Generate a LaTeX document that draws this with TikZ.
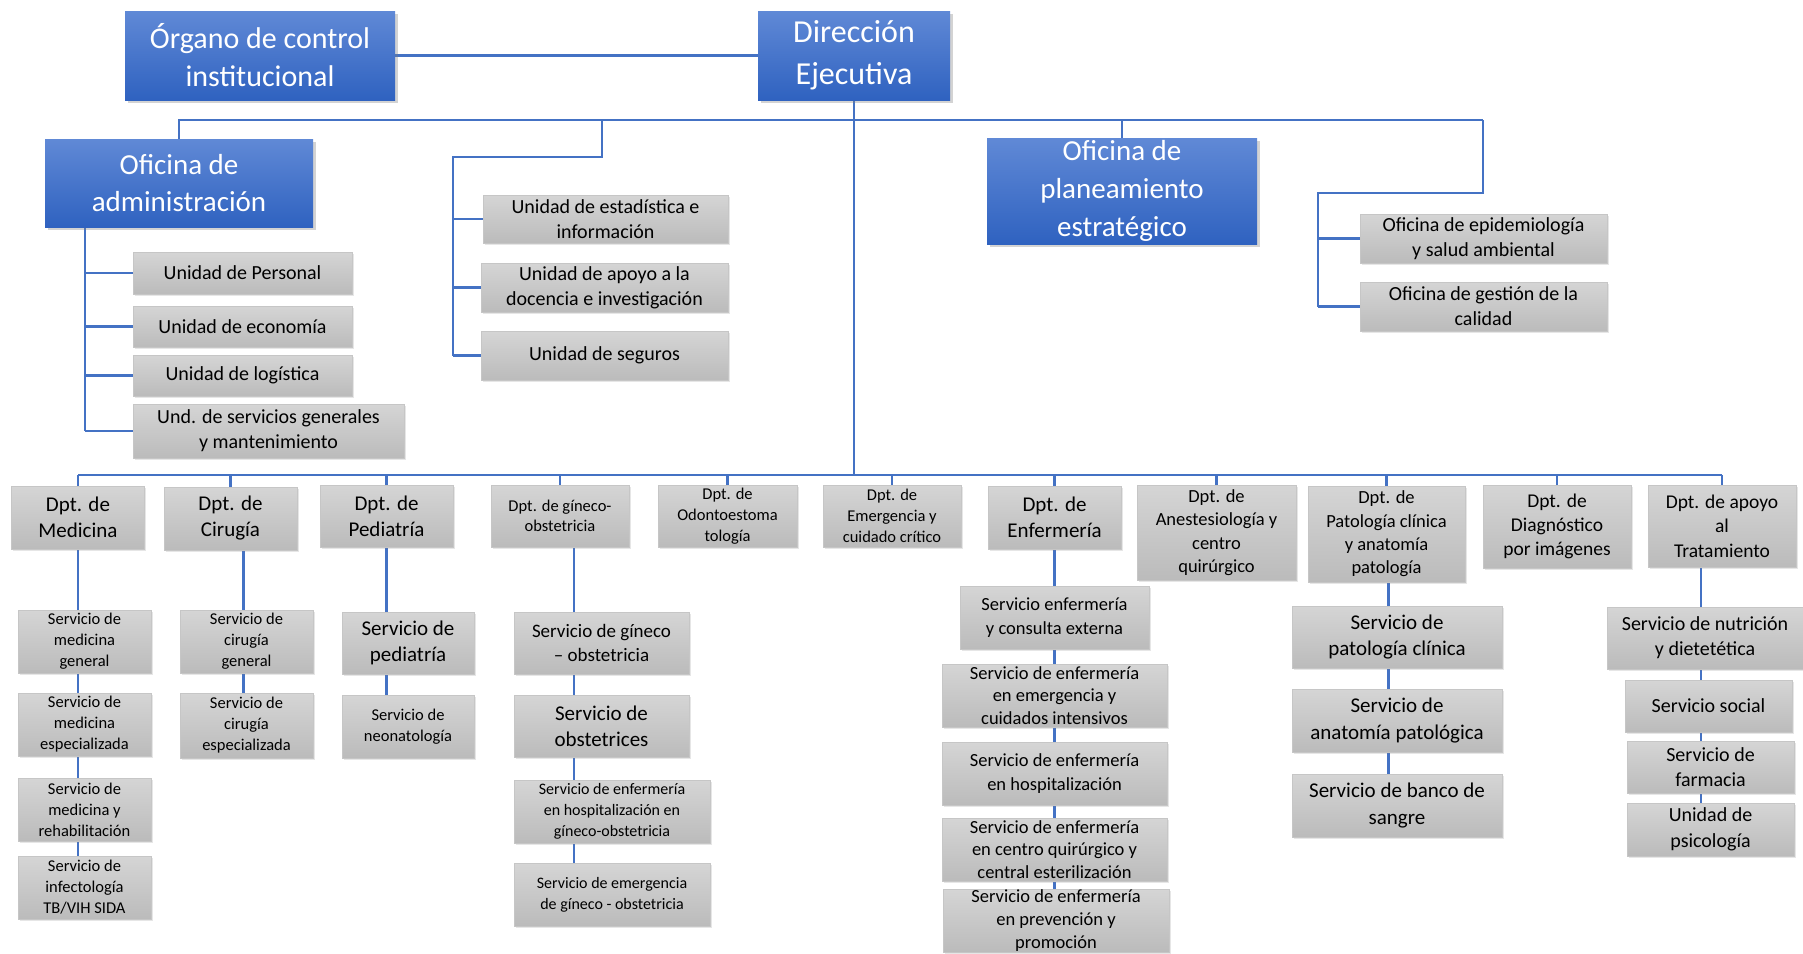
\documentclass[tikz,border=0pt]{standalone}
\usepackage{fontspec}
\setmainfont{Carlito}
\usetikzlibrary{shadows, backgrounds}

\definecolor{linkblue}{HTML}{4472C4}
\definecolor{bluetop}{HTML}{6089D6}
\definecolor{bluebot}{HTML}{2F62C0}
\definecolor{graytop}{HTML}{D5D5D5}
\definecolor{graybot}{HTML}{BBBBBB}

\begin{document}
\begin{tikzpicture}[x=1pt, y=-1pt,
  bluestyle/.style 2 args={rectangle, top color=bluetop, bottom color=bluebot, text=white, align=center, inner sep=0pt,
    font=\fontsize{#1}{#2}\selectfont, drop shadow={shadow xshift=3pt, shadow yshift=-3pt, opacity=0.35}},
  graystyle/.style 2 args={rectangle, draw=gray!45, line width=1pt, top color=graytop, bottom color=graybot, align=center, inner sep=0pt,
    font=\fontsize{#1}{#2}\selectfont, drop shadow={shadow xshift=1.5pt, shadow yshift=-1.5pt, opacity=0.2}},
  wh/.style 2 args={minimum width=#1pt, minimum height=#2pt},
  linkstyle/.style={draw=linkblue, line width=2.8pt}]

  \useasboundingbox (0,0) rectangle (1803,953);

  % upper part
  \node[bluestyle={30}{38}, wh={270}{89}] (org) at (260,55.5) {Órgano de control\\institucional};
  \node[bluestyle={32}{42}, wh={192}{89}] (dir) at (854,55.5) {Dirección\\Ejecutiva};
  \node[bluestyle={29}{37}, wh={268}{88}] (adm) at (179,183) {Oficina de\\administración};
  \node[bluestyle={29}{38}, wh={270}{106}] (pla) at (1122,191) {Oficina de\\planeamiento\\estratégico};

  \node[graystyle={20}{25}, wh={219}{42}] (upers) at (242.5,273) {Unidad de Personal};
  \node[graystyle={20}{25}, wh={219}{41}] (ueco) at (242.5,326.5) {Unidad de economía};
  \node[graystyle={20}{25}, wh={219}{41}] (ulog) at (242.5,375.5) {Unidad de logística};
  \node[graystyle={20}{25}, wh={271}{54}] (userv) at (268.5,431) {Und. de servicios generales\\y mantenimiento};

  \node[graystyle={20}{25}, wh={245}{48}] (uest) at (605.5,219) {Unidad de estadística e\\información};
  \node[graystyle={20}{25}, wh={247}{49}] (uapo) at (604.5,287.5) {Unidad de apoyo a la\\docencia e investigación};
  \node[graystyle={20}{25}, wh={247}{49}] (useg) at (604.5,355.5) {Unidad de seguros};

  \node[graystyle={20}{25}, wh={247}{49}] (oepi) at (1483.5,238.5) {Oficina de epidemiología\\y salud ambiental};
  \node[graystyle={20}{25}, wh={247}{49}] (ogest) at (1483.5,306.5) {Oficina de gestión de la\\calidad};

  % departments
  \node[graystyle={21}{26}, wh={133}{63}] (dmed) at (78,517.5) {Dpt. de\\Medicina};
  \node[graystyle={21}{26}, wh={133}{63}] (dcir) at (230.5,518.5) {Dpt. de\\Cirugía};
  \node[graystyle={21}{26}, wh={133}{62}] (dped) at (386.5,516) {Dpt. de\\Pediatría};
  \node[graystyle={16.5}{20}, wh={138}{62}] (dgin) at (560,516) {Dpt. de gíneco-\\obstetricia};
  \node[graystyle={16.5}{21}, wh={139}{62}] (dodo) at (727.5,516) {Dpt. de\\Odontoestoma\\tología};
  \node[graystyle={16.5}{21}, wh={138}{62}] (deme) at (892,516) {Dpt. de\\Emergencia y\\cuidado crítico};
  \node[graystyle={21}{26}, wh={133}{63}] (denf) at (1054.5,517.5) {Dpt. de\\Enfermería};
  \node[graystyle={18.5}{23.5}, wh={159}{95}] (dane) at (1216.5,532.5) {Dpt. de\\Anestesiología y\\centro\\quirúrgico};
  \node[graystyle={18.5}{23.3}, wh={157}{96}] (dpat) at (1386.5,534) {Dpt. de\\Patología clínica\\y anatomía\\patología};
  \node[graystyle={19.5}{24}, wh={148}{83}] (ddia) at (1557,526.5) {Dpt. de\\Diagnóstico\\por imágenes};
  \node[graystyle={19.5}{24.5}, wh={148}{82}] (dapo) at (1722,526) {Dpt. de apoyo\\al\\Tratamiento};

  % services
  \node[graystyle={16.5}{21}, wh={133}{63}] (smg) at (84.5,641.5) {Servicio de\\medicina\\general};
  \node[graystyle={16.5}{21}, wh={133}{63}] (sme) at (84.5,724.5) {Servicio de\\medicina\\especializada};
  \node[graystyle={16.5}{21}, wh={133}{63}] (smr) at (84.5,809.5) {Servicio de\\medicina y\\rehabilitación};
  \node[graystyle={16.5}{21}, wh={133}{63}] (sinf) at (84.5,887.5) {Servicio de\\infectología\\TB/VIH SIDA};

  \node[graystyle={16.5}{21}, wh={133}{63}] (scg) at (246.5,641.5) {Servicio de\\cirugía\\general};
  \node[graystyle={16.5}{21}, wh={133}{65}] (sce) at (246.5,725.5) {Servicio de\\cirugía\\especializada};

  \node[graystyle={21}{26}, wh={132}{62}] (sped) at (408,643) {Servicio de\\pediatría};
  \node[graystyle={16.5}{21}, wh={132}{63}] (sneo) at (408,726.5) {Servicio de\\neonatología};

  \node[graystyle={19}{24}, wh={175}{62}] (sgo) at (601.5,643) {Servicio de gíneco\\– obstetricia};
  \node[graystyle={21}{26}, wh={175}{62}] (sobs) at (601.5,726) {Servicio de\\obstetrices};
  \node[graystyle={16}{21}, wh={196}{63}] (shgo) at (612,811.5) {Servicio de enfermería\\en hospitalización en\\gíneco-obstetricia};
  \node[graystyle={16}{21}, wh={196}{63}] (segi) at (612,894.5) {Servicio de emergencia\\de gíneco - obstetricia};

  \node[graystyle={18.5}{23.3}, wh={189}{63}] (sece) at (1054.5,617.5) {Servicio enfermería\\y consulta externa};
  \node[graystyle={18.5}{22.5}, wh={225}{63}] (seem) at (1054.5,695.5) {Servicio de enfermería\\en emergencia y\\cuidados intensivos};
  \node[graystyle={18.5}{23.3}, wh={225}{63}] (seho) at (1054.5,773.5) {Servicio de enfermería\\en hospitalización};
  \node[graystyle={18.5}{22.5}, wh={225}{63}] (secq) at (1054.5,849.5) {Servicio de enfermería\\en centro quirúrgico y\\central esterilización};
  \node[graystyle={18.5}{23.3}, wh={226}{63}] (sepp) at (1056,920.5) {Servicio de enfermería\\en prevención y\\promoción};

  \node[graystyle={21}{26.5}, wh={210}{62}] (spc) at (1397,637) {Servicio de\\patología clínica};
  \node[graystyle={21}{26.5}, wh={210}{63}] (sap) at (1397,720.5) {Servicio de\\anatomía patológica};
  \node[graystyle={21}{26.5}, wh={210}{63}] (sbs) at (1397,805.5) {Servicio de banco de\\sangre};

  \node[graystyle={20}{25}, wh={196}{62}] (snut) at (1705,638) {Servicio de nutrición\\y dietetética};
  \node[graystyle={20}{25}, wh={167}{52}] (ssoc) at (1708.5,706) {Servicio social};
  \node[graystyle={20}{25}, wh={167}{52}] (sfar) at (1710.5,767) {Servicio de\\farmacia};
  \node[graystyle={20}{26}, wh={167}{53}] (spsi) at (1710.5,829.5) {Unidad de\\psicología};

  % junction points
  \coordinate (tr) at (1483,120);
  \coordinate (mtop) at (602,120);
  \coordinate (mj) at (453,157);
  \coordinate (rj) at (1318,193);
  \coordinate (aj) at (85,227);
  \coordinate (bb) at (78,475);

  \begin{scope}[on background layer]
    \draw[linkstyle] (org.east) -- (dir.west);
    \draw[linkstyle] (adm.north) |- (tr);
    \draw[linkstyle] (pla.north) -- (pla.north |- tr);
    \draw[linkstyle] (dir.south) -- (dir.south |- bb);

    \draw[linkstyle] (aj) -- (aj |- userv.west);
    \foreach \n in {upers,ueco,ulog,userv}
      \draw[linkstyle] (\n.west) -- (\n.west -| aj);

    \draw[linkstyle] (mtop) |- (mj) -- (mj |- useg.west);
    \foreach \n in {uest,uapo,useg}
      \draw[linkstyle] (\n.west) -- (\n.west -| mj);

    \draw[linkstyle] (tr) |- (rj) -- (rj |- ogest.west);
    \foreach \n in {oepi,ogest}
      \draw[linkstyle] (\n.west) -- (\n.west -| rj);

    \draw[linkstyle] (dmed.north |- bb) -- (dapo.north |- bb);
    \foreach \n in {dmed,dcir,dped,dgin,dodo,deme,denf,dane,dpat,ddia,dapo}
      \draw[linkstyle] (\n.north) -- (\n.north |- bb);

    \foreach \p/\c/\s in {dmed/sinf/0, dcir/sce/13, dped/sneo/0, dgin/segi/14, denf/sepp/0, dpat/sbs/2, dapo/spsi/-21}
      \draw[linkstyle] ([xshift=\s pt]\p.south) -- ([xshift=\s pt]\p.south |- \c.north);
  \end{scope}

\end{tikzpicture}
\end{document}
